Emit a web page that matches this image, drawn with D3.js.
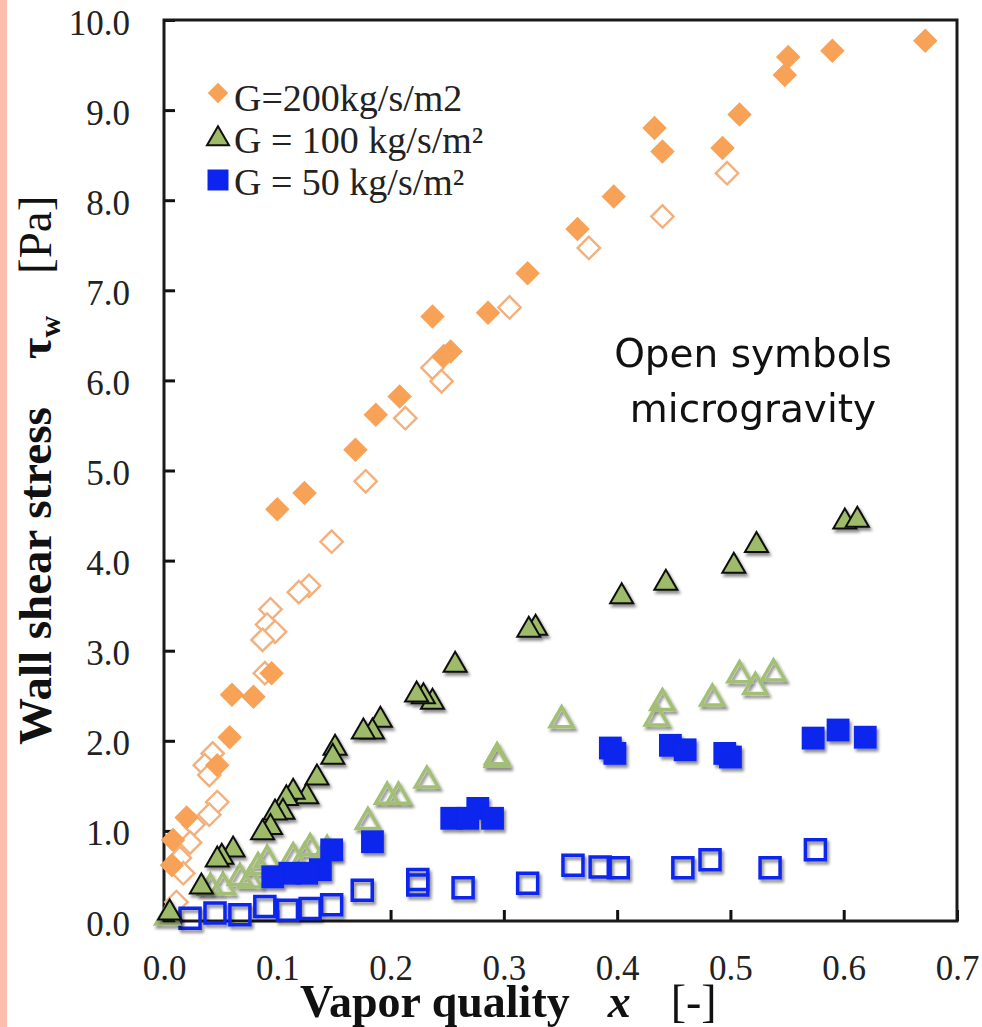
<!DOCTYPE html>
<html>
<head>
<meta charset="utf-8">
<script src="https://cdn.jsdelivr.net/npm/d3@7"></script>
<style>
  body { margin: 0; background: #fff; }
  svg { display: block; }
</style>
</head>
<body>
<div id="plot"></div>
<script>
// data, [x, tau_w]
var g200Ground = [[0.672,9.77],[0.590,9.66],[0.551,9.59],[0.548,9.39],[0.508,8.95],[0.493,8.58],
    [0.433,8.80],[0.440,8.54],[0.397,8.04],[0.365,7.68],[0.321,7.19],[0.286,6.75],[0.237,6.71],
    [0.253,6.32],[0.247,6.27],[0.208,5.82],[0.187,5.62],[0.169,5.23],[0.124,4.75],[0.100,4.57],
    [0.095,2.75],[0.079,2.49],[0.060,2.51],[0.058,2.04],[0.047,1.73],[0.020,1.15],[0.008,0.90],[0.007,0.62]];
var g200Micro = [[0.497,8.30],[0.440,7.82],[0.375,7.47],[0.305,6.81],[0.237,6.14],[0.245,5.99],
    [0.213,5.58],[0.178,4.88],[0.148,4.21],[0.128,3.72],[0.119,3.65],[0.094,3.46],[0.091,3.29],
    [0.098,3.21],[0.087,3.12],[0.089,2.75],[0.043,1.86],[0.036,1.73],[0.040,1.62],[0.047,1.32],
    [0.040,1.18],[0.026,1.07],[0.023,0.87],[0.014,0.70],[0.017,0.53],[0.011,0.21]];
var g100Ground = [[0.601,4.43],[0.612,4.45],[0.523,4.17],[0.503,3.94],[0.443,3.75],[0.404,3.60],
    [0.328,3.25],[0.322,3.23],[0.257,2.84],[0.237,2.43],[0.229,2.49],[0.223,2.51],[0.191,2.23],
    [0.184,2.10],[0.176,2.10],[0.151,1.92],[0.149,1.82],[0.135,1.59],[0.126,1.38],[0.114,1.43],
    [0.108,1.36],[0.105,1.21],[0.098,1.20],[0.094,1.04],[0.087,0.98],[0.061,0.79],[0.051,0.71],
    [0.047,0.68],[0.033,0.38],[0.005,0.09]];
var g100Micro = [[0.508,2.73],[0.538,2.75],[0.522,2.60],[0.484,2.47],[0.440,2.42],[0.435,2.25],
    [0.351,2.23],[0.294,1.79],[0.294,1.82],[0.232,1.56],[0.207,1.38],[0.197,1.38],[0.180,1.10],
    [0.144,0.79],[0.129,0.81],[0.124,0.71],[0.114,0.71],[0.091,0.68],[0.083,0.60],[0.076,0.45],
    [0.067,0.48],[0.052,0.38],[0.041,0.37],[0.003,0.04]];
var g50Ground = [[0.394,1.92],[0.398,1.86],[0.447,1.95],[0.460,1.90],[0.495,1.86],[0.500,1.82],
    [0.573,2.03],[0.595,2.12],[0.619,2.04],[0.254,1.14],[0.268,1.14],[0.277,1.25],[0.290,1.14],
    [0.184,0.88],[0.148,0.79],[0.138,0.57],[0.126,0.53],[0.111,0.53],[0.096,0.49]];
var g50Micro = [[0.575,0.79],[0.535,0.59],[0.482,0.68],[0.458,0.59],[0.401,0.59],[0.385,0.60],
    [0.361,0.62],[0.321,0.42],[0.264,0.37],[0.224,0.46],[0.224,0.40],[0.175,0.34],[0.148,0.18],
    [0.129,0.14],[0.109,0.12],[0.089,0.16],[0.067,0.07],[0.045,0.09],[0.023,0.03]];

var xTicks = [0, 0.1, 0.2, 0.3, 0.4, 0.5, 0.6, 0.7];
var yTicks = [0, 1, 2, 3, 4, 5, 6, 7, 8, 9, 10];
var legendLabels = ["G=200kg/s/m2", "G = 100 kg/s/m\u00b2", "G = 50 kg/s/m\u00b2"];
var noteLines = ["Open symbols", "microgravity"];

var orange = "#f7a257";
var orangeOpen = "#f3b07c";
var green = "#9dbb68";
var greenOpen = "#a3bf74";
var blue = "#0b25ee";
var serif = '"Liberation Serif", "Times New Roman", serif';

var W = 982, H = 1027;
var margin = {t: 20, r: 25, b: 106, l: 164};
var width = W - margin.l - margin.r,
    height = H - margin.t - margin.b;

var svg = d3.select('#plot').append('svg')
    .attr('width', W)
    .attr('height', H);

var defs = svg.append('defs');
var shadow = defs.append('filter').attr('id', 'shadow')
    .attr('x', '-50%').attr('y', '-50%').attr('width', '200%').attr('height', '200%');
shadow.append('feDropShadow').attr('dx', 2).attr('dy', 3).attr('stdDeviation', 1.8)
    .attr('flood-color', '#000').attr('flood-opacity', 0.45);

// pink strip on the left edge
svg.append('rect').attr('x', 0).attr('y', 0).attr('width', 7).attr('height', H).attr('fill', '#fbbfae');

var x = d3.scaleLinear().domain([0, 0.7]).range([0, width]);
var y = d3.scaleLinear().domain([0, 10]).range([height, 0]);

var plot = svg.append('g').attr('transform', 'translate(' + margin.l + ',' + margin.t + ')');

// axes, ticks pointing inwards
var xAxis = plot.append('g').attr('transform', 'translate(0,' + height + ')')
    .call(d3.axisBottom(x).tickValues(xTicks).tickFormat(d3.format('.1f')).tickSizeInner(-11).tickSizeOuter(0).tickPadding(34));
var yAxis = plot.append('g')
    .call(d3.axisLeft(y).tickValues(yTicks).tickFormat(d3.format('.1f')).tickSizeInner(-11).tickSizeOuter(0).tickPadding(34));

[xAxis, yAxis].forEach(function(a){
    a.select('.domain').remove();
    a.selectAll('.tick line').attr('stroke', '#111').attr('stroke-width', 3);
    a.selectAll('.tick text').attr('font-family', serif)
        .attr('font-size', 35).attr('fill', '#222');
});
yAxis.selectAll('.tick text').attr('dy', '0.4em');

plot.append('rect').attr('x', 0).attr('y', 0).attr('width', width).attr('height', height)
    .attr('fill', 'none').attr('stroke', '#1a1a1a').attr('stroke-width', 3);

// symbols
var diamond = d3.symbol().type(d3.symbolSquare).size(300);
var triangle = d3.symbol().type(d3.symbolTriangle).size(230);
var square = d3.symbol().type(d3.symbolSquare).size(520);

function drawSeries(data, path, style, rotate, useShadow){
    plot.append('g')
        .attr('filter', useShadow ? 'url(#shadow)' : null)
        .selectAll('path')
        .data(data)
        .enter()
        .append('path')
        .attr('d', path)
        .attr('transform', function(d){
            return 'translate(' + x(d[0]) + ',' + y(d[1]) + ')' + (rotate ? ' rotate(45)' : '');
        })
        .attr('fill', style.fill)
        .attr('stroke', style.stroke)
        .attr('stroke-width', style.sw);
}

drawSeries(g200Micro, d3.symbol().type(d3.symbolSquare).size(250)(), {fill: '#fff', stroke: orangeOpen, sw: 2.4}, true, false);
drawSeries(g200Ground, diamond(), {fill: orange, stroke: 'none', sw: 0}, true, false);
drawSeries(g50Micro, d3.symbol().type(d3.symbolSquare).size(400)(), {fill: 'none', stroke: blue, sw: 3.5}, false, true);
drawSeries(g100Micro, triangle(), {fill: 'none', stroke: greenOpen, sw: 3.5}, false, true);
drawSeries(g50Ground, square(), {fill: blue, stroke: 'none', sw: 0}, false, true);
drawSeries(g100Ground, triangle(), {fill: green, stroke: '#111', sw: 2}, false, true);

// legend
var legend = svg.append('g').attr('transform', 'translate(218,0)');
var markerY = [93, 139, 180];
var textY = [111, 153, 195];
legend.append('path').attr('d', d3.symbol().type(d3.symbolSquare).size(210)())
    .attr('transform', 'translate(0,' + markerY[0] + ') rotate(45)').attr('fill', orange);
legend.append('path').attr('d', d3.symbol().type(d3.symbolTriangle).size(210)())
    .attr('transform', 'translate(0,' + markerY[1] + ')').attr('fill', green).attr('stroke', '#111').attr('stroke-width', 2);
legend.append('path').attr('d', d3.symbol().type(d3.symbolSquare).size(440)())
    .attr('transform', 'translate(0,' + markerY[2] + ')').attr('fill', blue);
legend.selectAll('text').data(legendLabels).enter().append('text')
    .attr('x', 16)
    .attr('y', function(d, i){ return textY[i]; })
    .attr('font-family', serif)
    .attr('font-size', 38)
    .attr('fill', '#222')
    .text(function(d){ return d; });

// note
svg.append('g').selectAll('text').data(noteLines).enter().append('text')
    .attr('x', 753)
    .attr('y', function(d, i){ return 367 + i * 55; })
    .attr('text-anchor', 'middle')
    .attr('font-family', '"DejaVu Sans", sans-serif')
    .attr('font-size', 39)
    .attr('fill', '#111')
    .text(function(d){ return d; });

// axis titles
var xTitle = svg.append('text')
    .attr('x', 300).attr('y', 1017)
    .attr('font-family', serif)
    .attr('font-weight', 'bold').attr('font-size', 46).attr('fill', '#111');
xTitle.append('tspan').text('Vapor quality');
xTitle.append('tspan').attr('dx', 38).attr('font-style', 'italic').text('x');
xTitle.append('tspan').attr('dx', 40).attr('font-weight', 'normal').text('[-]');

var yTitle = svg.append('text')
    .attr('transform', 'translate(51,745) rotate(-90)')
    .attr('font-family', serif)
    .attr('font-weight', 'bold').attr('font-size', 47).attr('fill', '#111');
yTitle.append('tspan').text('Wall shear stress');
yTitle.append('tspan').attr('dx', 48).text('\u03c4');
yTitle.append('tspan').attr('font-size', 30).attr('dy', 9).text('w');
yTitle.append('tspan').attr('font-weight', 'normal').attr('dx', 42).attr('dy', -9).text('[Pa]');
</script>
</body>
</html>
